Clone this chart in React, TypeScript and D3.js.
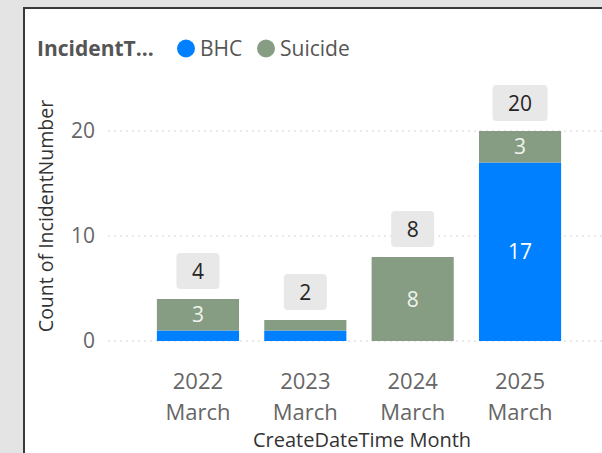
import * as d3 from "d3";

const categories = ["2022", "2023", "2024", "2025"];
const monthLabels = ["March", "March", "March", "March"];
const bhcValues = [1, 1, 0, 17];
const suicideValues = [3, 1, 8, 3];
const yTicks = [0, 10, 20];

const seriesNames = ["BHC", "Suicide"];
const colors = ["#0080ff", "#869d84"];

const W = 602;
const H = 453;
const font = "'Segoe UI', 'Open Sans', 'Noto Sans', sans-serif";

export default function App() {
  const x = d3.scaleBand<string>().domain(categories).range([144, 574]).paddingInner(0.235).paddingOuter(0.12);
  const y = d3.scaleLinear().domain([0, 20]).range([341, 131]);

  const rows = categories.map((c, i) => ({ cat: c, BHC: bhcValues[i], Suicide: suicideValues[i] }));
  const stacked = d3.stack<any>().keys(seriesNames)(rows);
  const totals = categories.map((_, i) => bhcValues[i] + suicideValues[i]);

  return (
    <svg width={W} height={H} style={{ position: "absolute", left: 0, top: 0, background: "#fff" }} fontFamily={font}>
      {/* frame */}
      <rect x={0} y={0} width={W} height={H} fill="#fff" />
      <rect x={0} y={0} width={23} height={H} fill="#e4e4e4" />
      <rect x={0} y={0} width={W} height={7} fill="#e4e4e4" />
      <line x1={24} y1={7} x2={24} y2={H} stroke="#3a3a3a" strokeWidth={2} />
      <line x1={23} y1={8} x2={W} y2={8} stroke="#3a3a3a" strokeWidth={2} />

      {/* legend */}
      <text x={37} y={56} fontSize={21} fontWeight="bold" fill="#555">IncidentT...</text>
      <circle cx={186} cy={48.5} r={9} fill={colors[0]} />
      <text x={200} y={56} fontSize={21} fill="#555">BHC</text>
      <circle cx={266} cy={48.5} r={9} fill={colors[1]} />
      <text x={280} y={56} fontSize={21} fill="#555">Suicide</text>

      {/* gridlines */}
      {yTicks.map((t) => (
        <g key={t}>
          <line x1={108} x2={W} y1={y(t)} y2={y(t)} stroke="#d4d4d4" strokeWidth={1.2} strokeDasharray="2,4" />
          <text x={95} y={y(t)} dy="0.35em" textAnchor="end" fontSize={21} fill="#666">{t}</text>
        </g>
      ))}

      {/* y title */}
      <text transform={`translate(53,216) rotate(-90)`} textAnchor="middle" fontSize={19.5} fill="#333">
        Count of IncidentNumber
      </text>

      {/* bars */}
      {stacked.map((s, si) => (
        <g key={s.key}>
          {s.map((d, i) => {
            const h = y(d[0]) - y(d[1]);
            if (h <= 0) return null;
            const v = d[1] - d[0];
            return (
              <g key={i}>
                <rect x={x(categories[i])} y={y(d[1])} width={x.bandwidth()} height={h} fill={colors[si]} />
                {h > 22 && (
                  <text
                    x={(x(categories[i]) ?? 0) + x.bandwidth() / 2}
                    y={(y(d[0]) + y(d[1])) / 2}
                    dy="0.36em"
                    textAnchor="middle"
                    fontSize={21}
                    fill={si === 0 ? "#fff" : "#eef3ec"}
                  >
                    {v}
                  </text>
                )}
              </g>
            );
          })}
        </g>
      ))}

      {/* total labels */}
      {totals.map((t, i) => {
        const cx = (x(categories[i]) ?? 0) + x.bandwidth() / 2;
        const bw = String(t).length > 1 ? 55 : 43;
        const top = y(t) - 10 - 36;
        return (
          <g key={i}>
            <rect x={cx - bw / 2} y={top} width={bw} height={36} rx={4} fill="#e8e8e8" />
            <text x={cx} y={top + 18} dy="0.36em" textAnchor="middle" fontSize={21} fill="#252423">{t}</text>
          </g>
        );
      })}

      {/* x axis labels */}
      {categories.map((c, i) => {
        const cx = (x(c) ?? 0) + x.bandwidth() / 2;
        return (
          <g key={c}>
            <text x={cx} y={389} textAnchor="middle" fontSize={22} fill="#666">{c}</text>
            <text x={cx} y={420} textAnchor="middle" fontSize={22} fill="#666">{monthLabels[i]}</text>
          </g>
        );
      })}
      <text x={362} y={447} textAnchor="middle" fontSize={20} fill="#333">CreateDateTime Month</text>
    </svg>
  );
}
